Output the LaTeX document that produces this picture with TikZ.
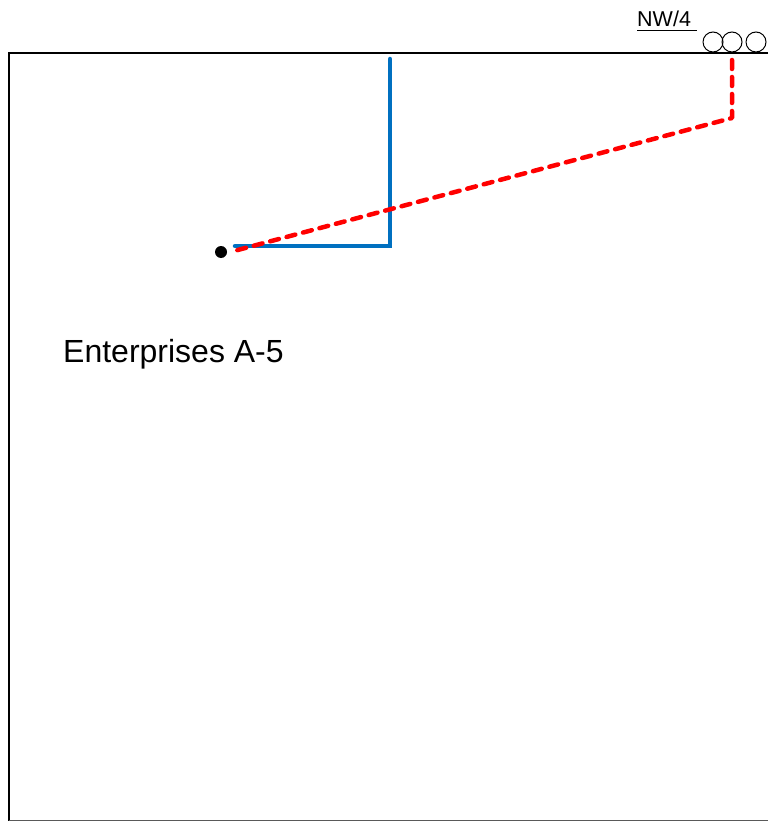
\documentclass[tikz,border=0pt]{standalone}
\usepackage{fontspec}
\setmainfont{Liberation Sans}
\begin{document}
\begin{tikzpicture}[x=1pt,y=-1pt,
  frame/.style={line width=2.6pt,black},
  blueline/.style={line width=4.5pt,color={rgb,255:red,0;green,112;blue,192},line cap=round},
  reddash/.style={line width=4.5pt,red,dash pattern=on 9pt off 8pt,line cap=round},
  ring/.style={circle,draw,line width=1pt,minimum size=20pt,inner sep=0pt}]
\useasboundingbox (0,0) rectangle (768,821);
\coordinate (tl) at (9,53);
\coordinate (tr) at (768,53);
\coordinate (bl) at (9,821);
\draw[frame] (tr) -- (tl) -- (bl);
\draw[line width=1pt,gray!70!black] (9,820) -- (768,820);
\node[ring] (c1) at (713,42) {};
\node[ring] (c2) at (732,42) {};
\node[ring] (c3) at (756,42) {};
\node[font=\fontsize{21.5}{24}\selectfont,anchor=south west,inner sep=0pt] (nw) at (637,27) {NW/4};
\draw[line width=1pt] (637,31) -- (697,31);
\node[circle,fill=black,inner sep=0pt,minimum size=12pt] (dot) at (221,252) {};
\coordinate (b0) at (390,59);
\coordinate (b1) at (390,246);
\coordinate (b2) at (235,246);
\draw[blueline] (b0) -- (b1) -- (b2);
\coordinate (r0) at (732,60);
\coordinate (r1) at (732,118);
\coordinate (r2) at (234,251);
\draw[reddash,line join=round] (r0) -- (r1) -- (r2);
\node[font=\fontsize{32}{36}\selectfont,anchor=base west,inner sep=0pt] (lbl) at (63,362) {Enterprises A-5};
\end{tikzpicture}
\end{document}
